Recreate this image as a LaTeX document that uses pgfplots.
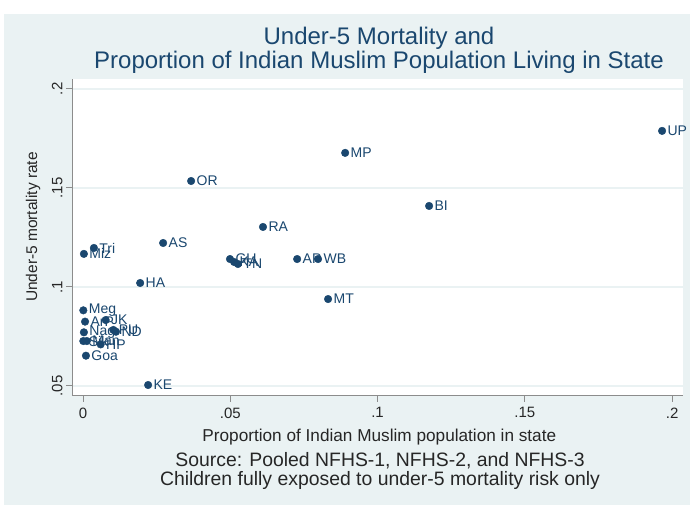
\documentclass[border=0pt]{standalone}
\usepackage{pgfplots}
\pgfplotsset{compat=1.18}
\usepackage{fontspec}
\setmainfont{Liberation Sans}
\definecolor{bgc}{HTML}{EAF2F3}
\definecolor{navy}{HTML}{1A476F}
\definecolor{axg}{HTML}{8C8C8C}
\pgfplotstableread{
x y label
0.1966 0.1788 UP
0.0890 0.1677 MP
0.1175 0.1409 BI
0.0367 0.1535 OR
0.0611 0.1303 RA
0.0272 0.1222 AS
0.0037 0.1197 Tri
0.0003 0.1167 Miz
0.0499 0.1141 GU
0.0513 0.1126 KA
0.0526 0.1116 TN
0.0727 0.1141 AP
0.0798 0.1141 WB
0.0832 0.0939 MT
0.0194 0.1020 HA
0.0001 0.0882 Meg
0.0007 0.0825 ArP
0.0077 0.0833 JK
0.0003 0.0771 Nag
0.0103 0.0783 PU
0.0112 0.0774 ND
0.0001 0.0727 Sik
0.0013 0.0727 Man
0.0060 0.0710 HP
0.0010 0.0653 Goa
0.0221 0.0505 KE
}\statedata
\begin{document}
\begin{tikzpicture}[x=1pt,y=1pt]
\useasboundingbox (0,0) rectangle (694,506);
\fill[white] (0,0) rectangle (694,506);
\fill[bgc] (4,1) rectangle (690,492);
\node[text=navy, font=\fontsize{24}{24}\selectfont, align=center] at (379,456)
  {Under-5 Mortality and\\Proportion of Indian Muslim Population Living in State};
\begin{axis}[
  at={(72pt,110pt)}, anchor=south west,
  scale only axis, width=611pt, height=317pt,
  xmin=-0.00374, xmax=0.2037, ymin=0.04495, ymax=0.205,
  clip=false,
  axis background/.style={fill=white},
  axis x line*=bottom, axis y line*=left,
  axis line style={axg, line width=1pt},
  tick style={axg, line width=1pt},
  tick align=outside, major tick length=6pt,
  xtick={0,0.05,0.1,0.15,0.2}, xticklabels={0,.05,.1,.15,.2},
  ytick={0.05,0.1,0.15,0.2}, yticklabels={.05,.1,.15,.2},
  ticklabel style={font=\fontsize{15}{15}\selectfont, text=black!85},
  xticklabel style={yshift=-2pt},
  yticklabel style={rotate=90, anchor=south},
  ymajorgrids, grid style={bgc, line width=1.5pt},
  xlabel={Proportion of Indian Muslim population in state},
  xlabel style={at={(axis description cs:0.503,-0.1293)}, anchor=center, font=\fontsize{17.2}{17}\selectfont, text=black!85},
  ylabel={Under-5 mortality rate},
  ylabel style={at={(axis description cs:-0.0638,0.533)}, anchor=center, font=\fontsize{15.5}{15.5}\selectfont, text=black!85},
]
\addplot[only marks, mark=*, mark size=3.8pt, mark options={fill=navy, draw=navy},
  point meta=explicit symbolic, nodes near coords,
  every node near coord/.append style={anchor=west, font=\fontsize{14}{14}\selectfont, text=navy, xshift=2pt}]
  table[x=x, y=y, meta=label] {\statedata};
\end{axis}
\node[align=center, font=\fontsize{19.4}{19}\selectfont, text=black!85] at (380,35.5)
  {Source: Pooled NFHS-1, NFHS-2, and NFHS-3\\Children fully exposed to under-5 mortality risk only};
\end{tikzpicture}
\end{document}
